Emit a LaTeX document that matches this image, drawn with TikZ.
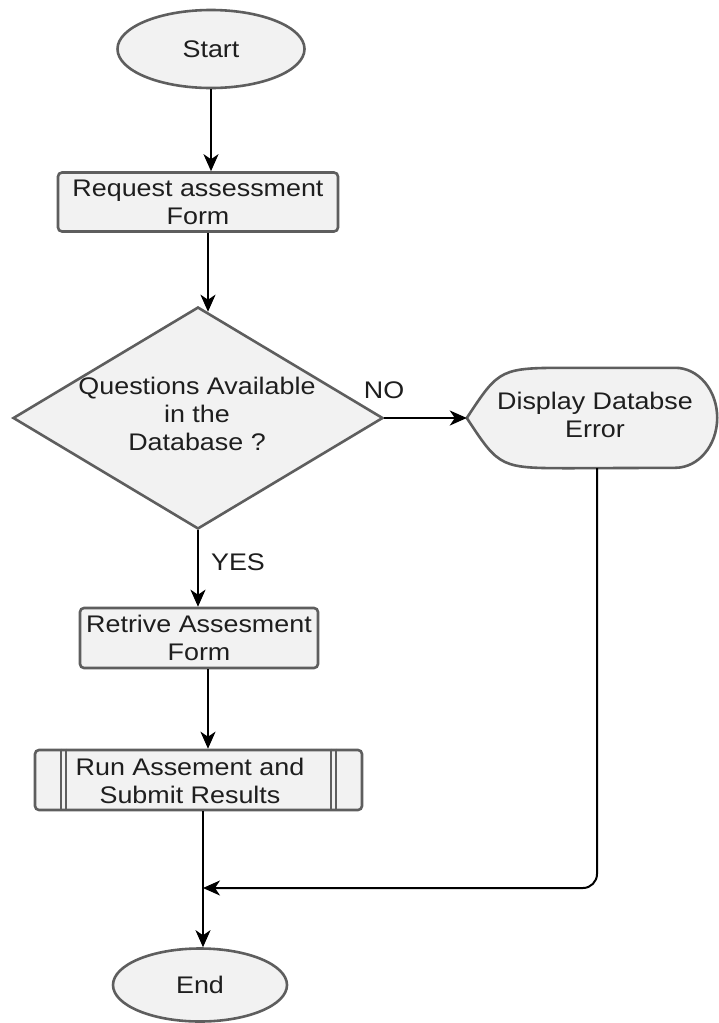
\documentclass[tikz,border=0pt]{standalone}
\usepackage{fontspec}
\setmainfont{Liberation Sans}[FakeStretch=1.12]
\usetikzlibrary{shapes.geometric,arrows.meta,calc}
\definecolor{shapefill}{HTML}{F2F2F2}
\definecolor{shapeline}{HTML}{5E5E5E}
\definecolor{ink}{HTML}{1E1E1E}
\begin{document}
\begin{tikzpicture}[x=1pt,y=-1pt,
  font=\fontsize{24}{28}\selectfont,
  base/.style={draw=shapeline, fill=shapefill, line width=2.6pt, text=ink, inner sep=0pt, align=center},
  term/.style={base, ellipse},
  proc/.style={base, rectangle, rounded corners=4pt},
  decision/.style={base, diamond, minimum width=370pt, minimum height=222pt},
  txt/.style={text=ink, align=center, inner sep=0pt},
  arr/.style={draw=black, line width=2pt, -{Stealth[length=17pt,width=15pt,inset=5pt]}},
]
\fill[white] (0,0) rectangle (719,1023);
\useasboundingbox (0,0) rectangle (719,1023);

% terminals and process boxes
\node[term, minimum width=187pt, minimum height=78pt] (start) at (211,49) {Start};
\node[proc, minimum width=280pt, minimum height=59pt] (req) at (198,202) {Request assessment\\Form};
\node[decision] (dia) at (198,418) {};
\node[txt] (diatext) at (197,414) {Questions Available\\in the\\Database ?};

% display shape: pointed left side, rounded right side
\path node[minimum width=250pt, minimum height=100pt, inner sep=0pt] (disp) at (592,418) {};
\draw[base] (disp.west)
  .. controls ($(disp.north west)+(33,0)$) .. ($(disp.north west)+(106,0)$)
  -- ($(disp.north east)+(-42,0)$)
  arc[start angle=-90, end angle=90, x radius=42, y radius=50]
  -- ($(disp.south west)+(106,0)$)
  .. controls ($(disp.south west)+(33,0)$) .. cycle;
\node[txt] (disptext) at (595,415) {Display Databse\\Error};

\node[proc, minimum width=238pt, minimum height=60pt] (ret) at (199,638) {Retrive Assesment\\Form};

% predefined process box with double side bars
\node[proc, minimum width=327pt, minimum height=60pt] (run) at (198.5,780) {};
\foreach \dx in {27.5,32.5}{
  \draw[shapeline, line width=1.5pt] ([xshift=\dx pt]run.north west) -- ([xshift=\dx pt]run.south west);
  \draw[shapeline, line width=1.5pt] ([xshift=-\dx pt]run.north east) -- ([xshift=-\dx pt]run.south east);
}
\node[txt] (runtext) at (190,781) {Run Assement and\\Submit Results};

\node[term, minimum width=174pt, minimum height=73pt] (end) at (200,985) {End};

% branch labels
\node[txt] (no) at (384,390) {NO};
\node[txt] (yes) at (238,562) {YES};

% connectors
\coordinate (merge) at (203,888);
\draw[arr] (start.south) -- (start.south |- req.north);
\draw[arr] ([xshift=10pt]req.south) -- ([xshift=10pt,yshift=-6pt]dia.north);
\draw[arr] (dia.east) -- (disp.west);
\draw[arr] (dia.south) -- (dia.south |- ret.north);
\draw[arr] ([xshift=9pt]ret.south) -- ([xshift=9pt]ret.south |- run.north);
\draw[arr] ([xshift=4.5pt]run.south) -- ([xshift=4.5pt]run.south |- end.north);
\draw[arr, rounded corners=14pt] ([xshift=5pt]disp.south) |- (merge);
\end{tikzpicture}
\end{document}
